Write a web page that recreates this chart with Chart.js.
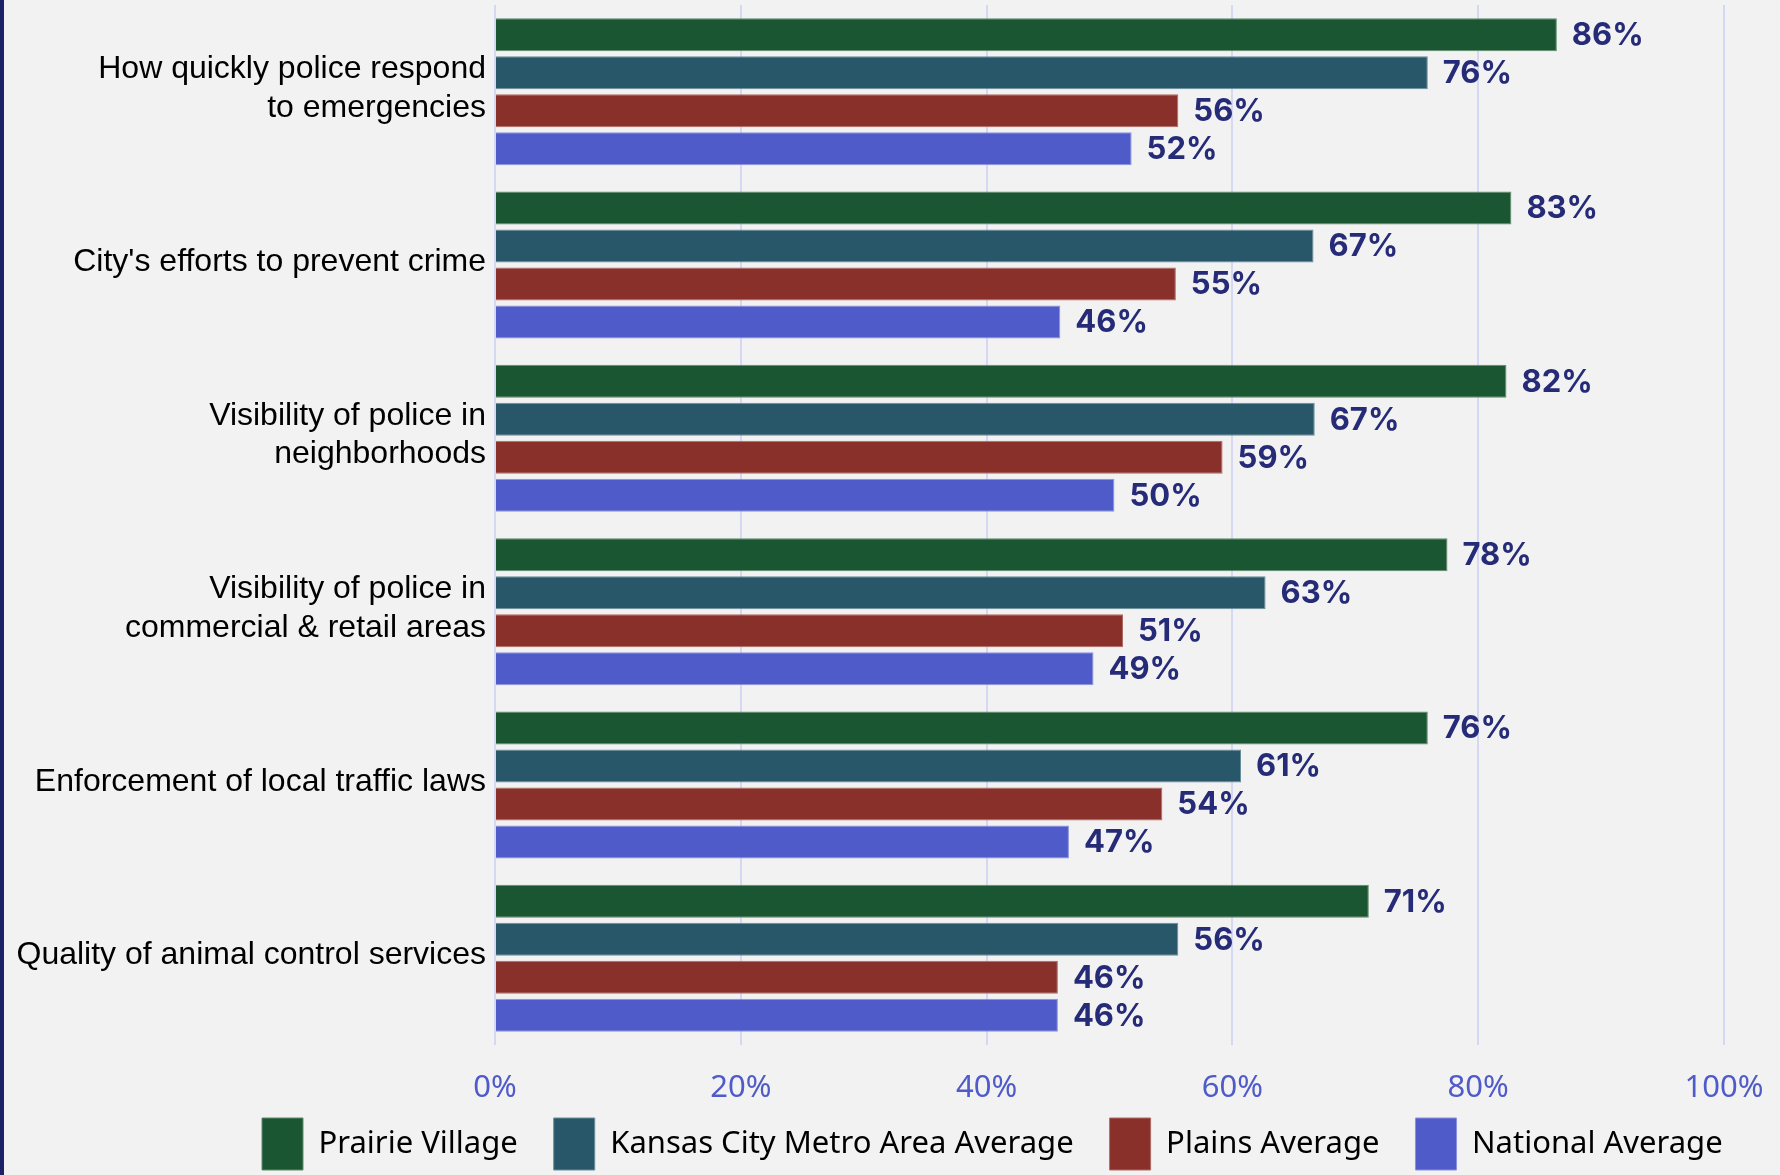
<!DOCTYPE html>
<html>
<head>
<meta charset="utf-8">
<script src="https://cdn.jsdelivr.net/npm/chart.js@4.4.1/dist/chart.umd.min.js"></script>
<style>
html,body{margin:0;padding:0;background:#f2f2f2;}
#wrap{position:relative;width:1780px;height:1175px;}
#bl{position:absolute;left:0;top:0;width:4px;height:1175px;background:#1b2266;}
</style>
</head>
<body>
<div id="wrap"><canvas id="c" width="1780" height="1175"></canvas><div id="bl"></div></div>
<script>
const categories = [
  ["How quickly police respond", "to emergencies"],
  "City's efforts to prevent crime",
  ["Visibility of police in", "neighborhoods"],
  ["Visibility of police in", "commercial & retail areas"],
  "Enforcement of local traffic laws",
  "Quality of animal control services"
];
const seriesNames = ["Prairie Village", "Kansas City Metro Area Average", "Plains Average", "National Average"];
const prairieVillage = [86.4, 82.7, 82.3, 77.5, 75.9, 71.1];
const kansasCityMetro = [75.9, 66.6, 66.7, 62.7, 60.7, 55.6];
const plainsAverage = [55.6, 55.4, 59.2, 51.1, 54.3, 45.8];
const nationalAverage = [51.8, 46.0, 50.4, 48.7, 46.7, 45.8];
const xTicks = [0, 20, 40, 60, 80, 100];

const colors = ["#1b5632", "#285769", "#883029", "#4f5bc9"];
const borders = ["#5f8a6c", "#6a8d9b", "#b06a64", "#8a92dc"];
const values = [prairieVillage, kansasCityMetro, plainsAverage, nationalAverage];

const valueLabels = {
  id: 'valueLabels',
  afterDatasetsDraw(chart) {
    const ctx = chart.ctx;
    ctx.save();
    ctx.font = '700 31px Inter';
    ctx.fillStyle = '#262b78';
    ctx.textBaseline = 'middle';
    ctx.textAlign = 'left';
    chart.data.datasets.forEach((ds, i) => {
      const meta = chart.getDatasetMeta(i);
      meta.data.forEach((bar, j) => {
        ctx.fillText(Math.round(ds.data[j]) + '%', bar.x + 15, bar.y + 1);
      });
    });
    ctx.restore();
  }
};

// place the library legend row where the reference has it
const legendPlacer = {
  id: 'legendPlacer',
  afterLayout(chart) {
    const lg = chart.legend;
    if (!lg) return;
    const pad = lg.options.labels.padding;
    lg.left = 262 - pad;
    lg.top = 1118 - pad;
    lg.right = chart.width;
    lg.bottom = chart.height;
    lg.width = lg.right - lg.left;
    lg.height = lg.bottom - lg.top;
  }
};

new Chart(document.getElementById('c'), {
  type: 'bar',
  data: {
    labels: categories,
    datasets: values.map((v, i) => ({
      label: seriesNames[i],
      data: v,
      backgroundColor: colors[i],
      borderColor: borders[i],
      borderWidth: 1,
      barPercentage: 0.87,
      categoryPercentage: 0.877
    }))
  },
  options: {
    indexAxis: 'y',
    responsive: false,
    animation: false,
    layout: { padding: { left: 0, right: 56, top: 5, bottom: 0 } },
    plugins: {
      legend: {
        position: 'bottom',
        align: 'start',
        maxHeight: 68,
        labels: {
          boxWidth: 41,
          boxHeight: 52,
          padding: 36,
          color: '#000',
          font: { family: '"Noto Sans"', size: 31 }
        }
      },
      tooltip: { enabled: false }
    },
    scales: {
      x: {
        type: 'linear',
        min: 0,
        max: 100,
        afterBuildTicks(s) { s.ticks = xTicks.map(v => ({ value: v })); },
        ticks: {
          callback: v => v + '%',
          color: '#4f5bc9',
          padding: 25,
          font: { family: '"Noto Sans"', size: 31 }
        },
        grid: { color: '#d5d8f2', lineWidth: 2, drawTicks: false },
        border: { display: false },
        afterFit(s) { s.height = 62; s.paddingLeft = 0; s.paddingRight = 0; }
      },
      y: {
        type: 'category',
        ticks: {
          color: '#000',
          padding: 9,
          labelOffset: -3,
          font: { family: '"Liberation Sans", Arial', size: 32, lineHeight: 1.2 }
        },
        grid: { display: false, drawTicks: false },
        border: { display: false },
        afterFit(s) { s.width = 495; s.paddingTop = 0; s.paddingBottom = 0; }
      }
    }
  },
  plugins: [valueLabels, legendPlacer]
});
</script>
</body>
</html>
